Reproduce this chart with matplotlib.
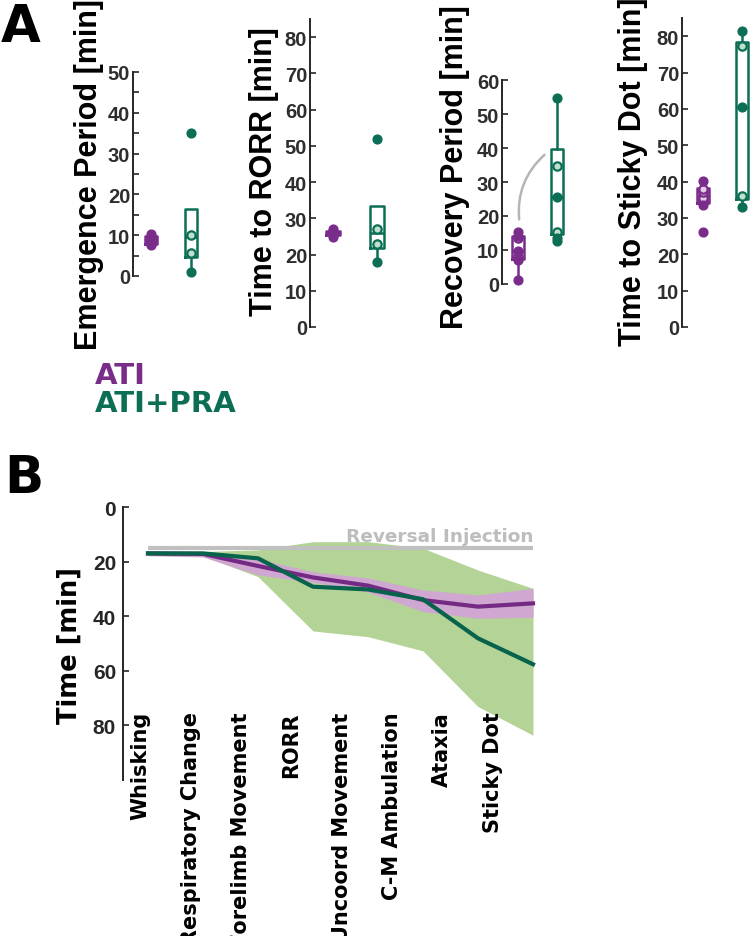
import numpy as np
import matplotlib
matplotlib.use('Agg')
import matplotlib.pyplot as plt

plt.rcParams['font.family'] = ['Liberation Sans', 'DejaVu Sans']
plt.rcParams['font.weight'] = 'bold'

W, H = 751, 937
PURPLE = '#7A2C8A'
GREEN = '#0B6E55'
PURPLE_LIGHT = '#E4CBE8'
GREEN_LIGHT = '#BFE0CC'
SPINE = '#262626'

# ---- Panel A data (individual animals) ----
emerg_ati = [7.5, 7.9, 8.3, 8.8, 9.2, 9.7, 10.2]
emerg_pra = [1.1, 5.6, 10.0, 35.0]
rorr_ati = [24.8, 25.3, 25.8, 26.1, 26.6, 27.1]
rorr_pra = [18.0, 22.9, 27.0, 52.0]
recov_ati = [1.2, 7.2, 7.8, 9.8, 13.4, 14.2, 15.2]
recov_pra = [12.6, 13.4, 15.4, 25.5, 34.6, 54.6]
sticky_ati = [26.0, 33.6, 34.7, 35.5, 37.0, 38.0, 40.2]
sticky_pra = [33.1, 36.1, 60.6, 77.3, 81.5]

# box stats: q1, median, q3, whisker low, whisker high
emerg_ati_box = [7.9, 8.8, 9.7, 7.5, 10.2]
emerg_pra_box = [4.6, 9.5, 16.4, 1.1, 16.4]
rorr_ati_box = [25.3, 26.0, 26.6, 24.8, 27.1]
rorr_pra_box = [21.7, 25.9, 33.3, 18.0, 33.3]
recov_ati_box = [7.4, 9.8, 14.0, 1.2, 15.2]
recov_pra_box = [14.7, 25.5, 39.7, 12.6, 54.6]
sticky_ati_box = [34.0, 36.0, 38.2, 33.6, 40.2]
sticky_pra_box = [35.2, 60.6, 78.3, 33.1, 81.5]

ylabels_a = ['Emergence Period [min]', 'Time to RORR [min]',
             'Recovery Period [min]', 'Time to Sticky Dot [min]']
ymax_a = [50, 85, 60, 85]

# ---- Panel B data (group mean and range per stage) ----
stages = ['Whisking', 'Respiratory Change', 'Forelimb Movement', 'RORR',
          'Uncoord Movement', 'C-M Ambulation', 'Ataxia', 'Sticky Dot']
ati_mean = [17.0, 17.2, 21.6, 25.8, 28.8, 34.1, 36.5, 35.3]
ati_lo = [16.2, 16.5, 19.0, 23.7, 26.0, 30.4, 32.2, 29.8]
ati_hi = [17.8, 18.3, 24.9, 27.6, 31.2, 38.3, 40.8, 40.4]
pra_mean = [17.0, 17.0, 18.8, 29.2, 30.2, 33.8, 48.1, 57.6]
pra_lo = [16.2, 16.3, 15.7, 12.7, 12.7, 15.1, 23.1, 29.8]
pra_hi = [17.8, 18.0, 25.5, 45.4, 47.5, 52.7, 73.1, 83.6]
reversal_time = 15.0


def px_rect(left, top, width, height):
    return [left / W, 1 - (top + height) / H, width / W, height / H]


fig = plt.figure(figsize=(W / 100, H / 100), dpi=100)

# layout of panel A axes: axis x, purple x, green x, top px, bottom px
layout_a = [
    (133, 151, 191, 73, 277),
    (310, 333, 377, 20, 328),
    (502, 518, 557, 81, 285),
    (682, 703, 742, 19, 328),
]
label_pos_a = [(89, 175), (264, 172), (455, 167), (633, 172)]

groups = [
    (emerg_ati, emerg_ati_box, emerg_pra, emerg_pra_box),
    (rorr_ati, rorr_ati_box, rorr_pra, rorr_pra_box),
    (recov_ati, recov_ati_box, recov_pra, recov_pra_box),
    (sticky_ati, sticky_ati_box, sticky_pra, sticky_pra_box),
]


def draw_group(ax, pos, vals, box, color, light):
    q1, med, q3, lo, hi = box
    stats = [dict(q1=q1, med=med, q3=q3, whislo=lo, whishi=hi, fliers=[])]
    lp = dict(color=color, lw=1.8)
    ax.bxp(stats, positions=[pos], widths=0.32, showcaps=False, showfliers=False,
           boxprops=lp, whiskerprops=lp, medianprops=lp)
    vals = np.array(vals)
    hollow = (vals > q1) & (vals < q3) & ~np.isclose(vals, med)
    ax.scatter(np.full(hollow.sum(), pos), vals[hollow], s=36, facecolor=light,
               edgecolor=color, linewidth=1.6, zorder=4, clip_on=False)
    ax.scatter(np.full((~hollow).sum(), pos), vals[~hollow], s=40, color=color,
               zorder=4, clip_on=False)


for i, (ax_x, p_x, g_x, top, bot) in enumerate(layout_a):
    scale = g_x - p_x
    x0 = 1 - (p_x - ax_x) / scale
    ax = fig.add_axes(px_rect(ax_x, top, 2 * scale, bot - top))
    ati, ati_box, pra, pra_box = groups[i]
    draw_group(ax, 1, ati, ati_box, PURPLE, PURPLE_LIGHT)
    draw_group(ax, 2, pra, pra_box, GREEN, GREEN_LIGHT)
    ax.set_xlim(x0, x0 + 2)
    ax.set_ylim(0, ymax_a[i])
    ax.set_yticks(np.arange(0, ymax_a[i] + 1, 10))
    if i == 0:
        ax.set_yticks(np.arange(5, 50, 10), minor=True)
    ax.set_xticks([])
    for s in ['top', 'right', 'bottom']:
        ax.spines[s].set_visible(False)
    ax.spines['left'].set_color(SPINE)
    ax.spines['left'].set_linewidth(1.4)
    ax.tick_params(axis='y', which='both', direction='in', length=4, width=1.2,
                   pad=2, labelsize=14.5, colors=SPINE, labelcolor='#2E2E2E')
    ax.patch.set_alpha(0)
    lx, ly = label_pos_a[i]
    fig.text(lx / W, 1 - ly / H, ylabels_a[i], rotation=90, ha='center',
             va='center', fontsize=22, fontweight='bold', color='black')
    if i == 2:
        ax.annotate('', xy=(1.68, 38), xytext=(1.03, 19),
                    arrowprops=dict(arrowstyle='-', color='#B5B5B5', lw=1.8,
                                    connectionstyle='arc3,rad=-0.25',
                                    shrinkA=0, shrinkB=0))

# legend text
fig.text(95 / W, 1 - 376 / H, 'ATI', color=PURPLE, fontsize=21,
         family='DejaVu Sans', fontweight='bold', va='center')
fig.text(95 / W, 1 - 404 / H, 'ATI+PRA', color=GREEN, fontsize=21,
         family='DejaVu Sans', fontweight='bold', va='center')

# panel letters
fig.text(1 / W, 1 - 42 / H, 'A', fontsize=37, family='DejaVu Sans',
         fontweight='bold', va='baseline')
fig.text(4 / W, 1 - 493 / H, 'B', fontsize=37, family='DejaVu Sans',
         fontweight='bold', va='baseline')

# ---- Panel B ----
axb = fig.add_axes(px_rect(123, 508, 420, 273))
x = np.arange(len(stages))
axb.fill_between(x, pra_lo, pra_hi, color='#B4D396', lw=0, zorder=1)
axb.fill_between(x, ati_lo, ati_hi, color='#CFA7D0', lw=0, zorder=2)
axb.plot([x[0], x[-1]], [reversal_time, reversal_time], color='#C0C0C0',
         lw=3, zorder=3, solid_capstyle='butt')
axb.text(x[-1], reversal_time - 1.2, 'Reversal Injection', ha='right',
         va='bottom', color='#BDBDBD', fontsize=13.3, family='DejaVu Sans',
         fontweight='bold', zorder=3)
axb.plot(x, ati_mean, color='#742A84', lw=3, zorder=4)
axb.plot(x, pra_mean, color='#07634B', lw=3, zorder=5)
axb.set_xlim(-25 / 55, 7 + 10 / 55)
axb.set_ylim(100, 0)
axb.set_yticks([0, 20, 40, 60, 80])
tick_pos = -0.14 + 0.915 * x
axb.set_xticks(tick_pos)
axb.set_xticklabels(stages, rotation=90, family='DejaVu Sans',
                    fontweight='bold', fontsize=15)
axb.tick_params(axis='x', length=0, pad=-49.5)
axb.tick_params(axis='y', direction='in', length=4, width=1.2, pad=5,
                labelsize=15, colors=SPINE, labelcolor='#262626')
for s in ['top', 'right', 'bottom']:
    axb.spines[s].set_visible(False)
axb.spines['left'].set_color(SPINE)
axb.spines['left'].set_linewidth(1.4)
axb.patch.set_alpha(0)
fig.text(70 / W, 1 - 645 / H, 'Time [min]', rotation=90, ha='center',
         va='center', fontsize=18.5, family='DejaVu Sans', fontweight='bold')

fig.savefig('out.png', dpi=100)
